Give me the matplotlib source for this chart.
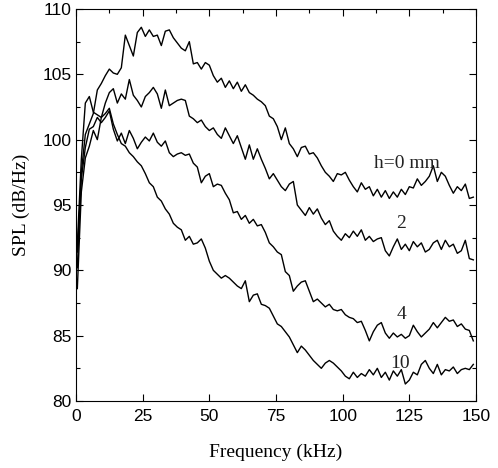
import numpy as np
import matplotlib
matplotlib.use("Agg")
import matplotlib.pyplot as plt
from matplotlib.ticker import MultipleLocator

# frequency grid (kHz) and SPL (dB/Hz)
freq = np.arange(0.5, 149.6, 1.5)

spl_h0 = [
    90.2, 97.5, 100.4, 101.2, 102.0, 103.8, 104.3, 104.9, 105.4, 105.1,
    105.0, 105.5, 108.0, 107.2, 106.4, 108.2, 108.6, 107.9, 108.4, 107.9,
    108.0, 107.2, 108.3, 108.4, 107.8, 107.4, 107.0, 106.8, 107.5, 105.8,
    105.9, 105.4, 105.9, 105.7, 104.9, 104.4, 104.7, 104.0, 104.5, 103.9,
    104.4, 103.7, 104.2, 103.6, 103.4, 103.1, 102.9, 102.6, 101.8, 101.6,
    101.0, 100.0, 100.9, 99.7, 99.3, 98.7, 99.4, 99.5, 98.9, 99.0,
    98.6, 98.0, 97.5, 97.2, 96.8, 97.4, 97.3, 97.5, 96.9, 96.4,
    96.0, 96.7, 96.2, 96.4, 95.7, 96.2, 95.6, 96.1, 95.5, 96.0,
    95.6, 96.2, 95.8, 96.4, 96.3, 97.0, 96.5, 96.8, 97.2, 98.0,
    96.8, 97.5, 97.2, 96.5, 95.9, 96.4, 96.1, 96.6, 95.5, 95.6,
]

spl_h2 = [
    88.6, 96.0, 98.6, 99.5, 100.7, 100.0, 101.7, 102.8, 103.6, 103.9,
    102.8, 103.5, 103.1, 104.6, 103.4, 103.0, 102.5, 103.3, 103.6, 104.0,
    103.5, 102.4, 103.8, 102.6, 102.8, 103.0, 103.1, 103.0, 101.8, 101.6,
    101.3, 101.5, 101.0, 100.7, 100.9, 100.4, 100.1, 100.9, 100.3, 99.7,
    100.3, 99.4, 98.5, 99.6, 98.5, 99.3, 98.5, 97.8, 97.0, 97.4,
    96.9, 96.4, 96.1, 96.6, 96.8, 95.0, 94.6, 94.2, 94.8, 94.3,
    94.7, 94.0, 93.5, 93.8, 93.0, 92.6, 92.3, 92.8, 92.5, 93.0,
    92.6, 93.1, 92.3, 92.6, 92.2, 92.4, 92.5, 91.5, 91.1, 91.8,
    92.4, 91.6, 92.0, 91.5, 92.2, 91.8, 92.1, 91.4, 91.6, 92.1,
    92.3, 91.6, 92.3, 91.8, 92.0, 91.3, 91.5, 92.3, 90.9, 90.8,
]

spl_h4 = [
    91.4, 97.0, 99.4, 100.8, 101.0, 101.7, 101.3, 101.7, 102.2, 100.8,
    99.9, 100.5, 99.7, 100.7, 100.1, 99.3, 99.8, 100.2, 99.9, 100.5,
    99.8, 99.5, 99.9, 99.0, 98.7, 98.9, 99.0, 98.8, 98.9, 98.2,
    97.9, 96.7, 97.2, 97.4, 96.4, 96.6, 96.5, 95.9, 95.4, 94.4,
    94.5, 93.9, 94.2, 93.6, 93.9, 93.4, 93.5, 92.9, 92.1, 91.8,
    91.4, 91.2, 89.9, 89.6, 88.4, 88.8, 89.1, 89.2, 88.4, 87.6,
    87.8, 87.5, 87.2, 87.4, 87.0, 86.9, 87.0, 86.6, 86.4, 86.3,
    86.0, 86.1, 85.4, 84.6, 85.3, 85.8, 86.0, 85.2, 84.8, 85.2,
    84.9, 85.1, 84.8, 85.0, 85.8, 85.3, 84.9, 85.2, 85.5, 86.0,
    85.6, 86.0, 86.4, 86.1, 86.2, 85.7, 85.9, 85.5, 85.4, 84.6,
]

spl_h10 = [
    92.0, 98.5, 102.8, 103.3, 102.1, 101.9, 101.7, 102.0, 102.4, 101.2,
    100.4, 99.7, 99.5, 99.0, 98.7, 98.3, 98.0, 97.4, 96.7, 96.4,
    95.6, 95.3, 94.7, 94.3, 93.6, 93.3, 93.1, 92.3, 92.6, 92.0,
    92.1, 92.4, 91.7, 90.7, 90.0, 89.7, 89.4, 89.6, 89.4, 89.1,
    88.8, 88.6, 89.2, 87.6, 88.1, 88.2, 87.4, 87.3, 87.1, 86.5,
    85.9, 85.7, 85.3, 84.9, 84.3, 83.7, 84.2, 83.9, 83.5, 83.1,
    82.8, 82.5, 82.9, 83.1, 82.9, 82.6, 82.3, 81.9, 81.7, 82.2,
    81.8, 82.1, 81.9, 82.4, 82.0, 82.5, 81.8, 82.2, 81.6, 82.3,
    81.9, 82.4, 81.3, 81.6, 82.2, 82.0, 82.8, 83.1, 82.5, 82.1,
    82.8, 82.0, 82.4, 82.3, 82.6, 82.1, 82.4, 82.5, 82.4, 82.8,
]

labels = ["h=0 mm", "2", "4", "10"]
label_pos = [(124, 98.2), (122, 93.6), (122, 86.6), (121.5, 82.9)]

serif = ["Liberation Serif", "DejaVu Serif"]
sans = ["Liberation Sans", "DejaVu Sans"]

fig = plt.figure(figsize=(4.98, 4.68), dpi=100)
ax = fig.add_axes([0.1526, 0.1432, 0.8032, 0.8376])

for s in [spl_h0, spl_h2, spl_h4, spl_h10]:
    ax.plot(freq, s, color="black", lw=1.0)

for txt, (x, y) in zip(labels, label_pos):
    ax.text(x, y, txt, ha="center", va="center", fontsize=14,
            family=serif, color="#222222")

ax.set_xlim(0, 150)
ax.set_ylim(80, 110)
ax.xaxis.set_major_locator(MultipleLocator(25))
ax.xaxis.set_minor_locator(MultipleLocator(12.5))
ax.yaxis.set_major_locator(MultipleLocator(5))
ax.yaxis.set_minor_locator(MultipleLocator(2.5))
ax.tick_params(which="major", direction="in", length=5, width=0.8,
               top=True, right=True, labelsize=12.5)
ax.tick_params(which="minor", direction="in", length=3, width=0.8,
               bottom=False, top=True, left=True, right=True)
ax.tick_params(axis="x", pad=6)
ax.tick_params(axis="y", pad=3)
for lab in ax.get_xticklabels() + ax.get_yticklabels():
    lab.set_family(sans)

ax.set_xlabel("Frequency (kHz)", family=serif, fontsize=14, labelpad=14)
ax.set_ylabel("SPL (dB/Hz)", family=serif, fontsize=14, labelpad=9)

fig.savefig("out.png", dpi=100)
